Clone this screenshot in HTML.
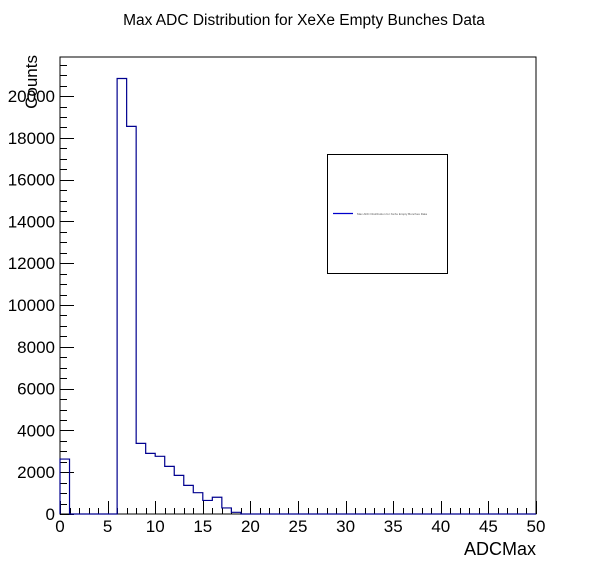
<!DOCTYPE html>
<html><head><meta charset="utf-8"><style>
body{margin:0;background:#fff}
text{font-family:"Liberation Sans",sans-serif}
</style></head><body>
<svg id="c" width="596" height="572" xmlns="http://www.w3.org/2000/svg">
<rect width="596" height="572" fill="#fff"/>
<text x="304" y="25" font-size="15.5" text-anchor="middle">Max ADC Distribution for XeXe Empty Bunches Data</text>
<rect x="60" y="57" width="476" height="457" fill="none" stroke="#000"/>
<g id="axes"></g>
<path id="hist" fill="none" stroke="#00008f" stroke-width="1.2"/>
<text x="536" y="555" font-size="18" text-anchor="end">ADCMax</text>
<text transform="translate(37,55) rotate(-90)" font-size="17" text-anchor="end">Counts</text>
<g>
<rect x="327.5" y="154.5" width="120" height="119" fill="#fff" stroke="#000"/>
<line x1="333" y1="213.5" x2="353" y2="213.5" stroke="#0000cc" stroke-width="1.3"/>
<text x="357" y="215" font-size="3" fill="#555">Max ADC Distribution for XeXe Empty Bunches Data</text>
</g>
</svg>
<script>
const binCounts=[2630,0,0,0,0,0,20840,18550,3380,2900,2760,2280,1850,1370,1020,650,800,290,80,0,0,0,0,0,0,0,0,0,0,0,0,0,0,0,0,0,0,0,0,0,0,0,0,0,0,0,0,0,0,0];
const xTicks=[0,5,10,15,20,25,30,35,40,45,50];
const yTicks=[0,2000,4000,6000,8000,10000,12000,14000,16000,18000,20000];
const X0=60,X1=536,Y0=514,Y1=57,XMAX=50,YMAX=21870;
function sx(v){return X0+(X1-X0)*v/XMAX;}
function sy(v){return Y0-(Y0-Y1)*v/YMAX;}
const NS="http://www.w3.org/2000/svg";
const ax=document.getElementById('axes');
function line(x1,y1,x2,y2){const l=document.createElementNS(NS,'line');l.setAttribute('x1',x1);l.setAttribute('y1',y1);l.setAttribute('x2',x2);l.setAttribute('y2',y2);l.setAttribute('stroke','#000');


ax.appendChild(l);}
function txt(x,y,s,anchor){const t=document.createElementNS(NS,'text');t.setAttribute('x',x);t.setAttribute('y',y);t.setAttribute('font-size','17');t.setAttribute('text-anchor',anchor);t.textContent=s;


ax.appendChild(t);}
for(let i=0;i<=XMAX;i++){const x=Math.round(sx(i))+0.5;line(x,Y0,x,Y0-(i%5===0?13:6));}
xTicks.forEach(v=>txt(sx(v),532,String(v),'middle'));
for(let v=0;v<=YMAX;v+=500){const y=Math.round(sy(v))+0.5;line(X0,y,X0+(v%2000===0?14:7),y);}
yTicks.forEach(v=>txt(55,sy(v)+6,String(v),'end'));
let d='M'+sx(0)+','+sy(0);
binCounts.forEach((c,i)=>{d+=' L'+sx(i)+','+sy(c)+' L'+sx(i+1)+','+sy(c);});
document.getElementById('hist').setAttribute('d',d);
</script>
</body></html>
